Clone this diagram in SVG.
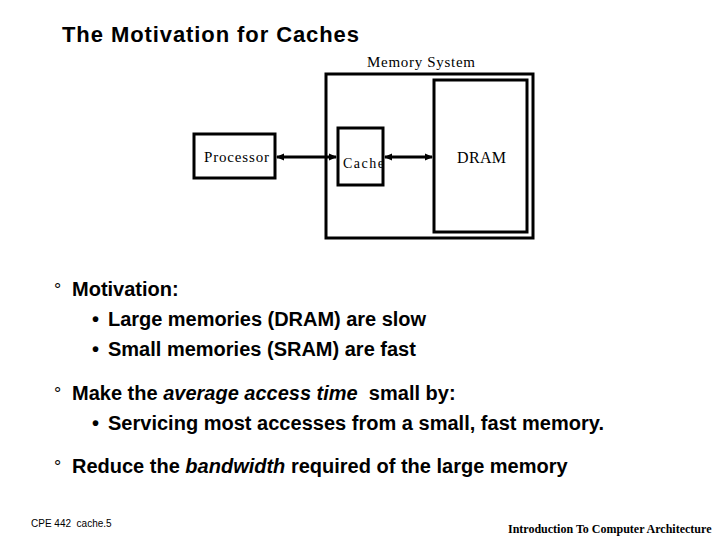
<svg xmlns="http://www.w3.org/2000/svg" width="720" height="540" viewBox="0 0 720 540">
  <style>
    .box { fill: none; stroke: #000; stroke-width: 3; }
    .serif { font-family: "Liberation Serif", "Times New Roman", serif; fill: #000; }
    .sans { font-family: "Liberation Sans", Arial, sans-serif; fill: #000; }
    .body { font-family: "Liberation Sans", Arial, sans-serif; font-weight: bold; font-size: 20px; fill: #000; }
    .mark { font-family: "Liberation Sans", Arial, sans-serif; font-size: 18px; fill: #000; }
    .conn { stroke: #000; stroke-width: 3; fill: none; marker-start: url(#head); marker-end: url(#head); }
  </style>
  <defs>
    <marker id="head" viewBox="0 0 8 8" refX="7" refY="4" markerWidth="8" markerHeight="8" markerUnits="userSpaceOnUse" orient="auto-start-reverse">
      <path d="M0,0.5 L8,4 L0,7.5 Z" fill="#000"/>
    </marker>
  </defs>
  <rect width="720" height="540" fill="#fff"/>

  <text class="sans" x="62" y="42" font-size="22" font-weight="bold" textLength="297" lengthAdjust="spacing">The Motivation for Caches</text>

  <g id="memory-system">
    <rect class="box" x="326" y="74" width="207" height="164"/>
    <text class="serif" x="367" y="67" font-size="15" textLength="108" lengthAdjust="spacing">Memory System</text>
  </g>
  <g id="processor">
    <rect class="box" x="194" y="134" width="81" height="44"/>
    <text class="serif" x="204" y="162" font-size="15" textLength="65" lengthAdjust="spacing">Processor</text>
  </g>
  <g id="cache">
    <rect class="box" x="338" y="128" width="45" height="57"/>
    <text class="serif" x="343" y="168" font-size="14" textLength="41" lengthAdjust="spacing">Cache</text>
  </g>
  <g id="dram">
    <rect class="box" x="434" y="80" width="93" height="152"/>
    <text class="serif" x="457" y="163" font-size="16" textLength="49" lengthAdjust="spacing">DRAM</text>
  </g>
  <g id="connectors">
    <line class="conn" x1="277" y1="157" x2="336" y2="157"/>
    <line class="conn" x1="385" y1="157" x2="432" y2="157"/>
  </g>

  <g id="bullets">
    <text class="mark" x="54" y="296">°</text>
    <text class="body" x="72" y="296">Motivation:</text>
    <text class="body" x="92" y="326">•</text>
    <text class="body" x="108" y="326" textLength="318" lengthAdjust="spacing">Large memories (DRAM) are slow</text>
    <text class="body" x="92" y="356">•</text>
    <text class="body" x="108" y="356">Small memories (SRAM) are fast</text>
    <text class="mark" x="54" y="400">°</text>
    <text class="body" x="72" y="400" xml:space="preserve">Make the <tspan font-style="italic">average access time</tspan>  small by:</text>
    <text class="body" x="92" y="430">•</text>
    <text class="body" x="108" y="430" textLength="496" lengthAdjust="spacing">Servicing most accesses from a small, fast memory.</text>
    <text class="mark" x="54" y="473">°</text>
    <text class="body" x="72" y="473" xml:space="preserve">Reduce the <tspan font-style="italic">bandwidth</tspan> required of the large memory</text>
  </g>

  <g id="footer">
    <text class="sans" x="31" y="527" font-size="10" xml:space="preserve">CPE 442  cache.5</text>
    <text class="serif" x="508" y="533" font-size="12" font-weight="bold">Introduction To Computer Architecture</text>
  </g>
</svg>
